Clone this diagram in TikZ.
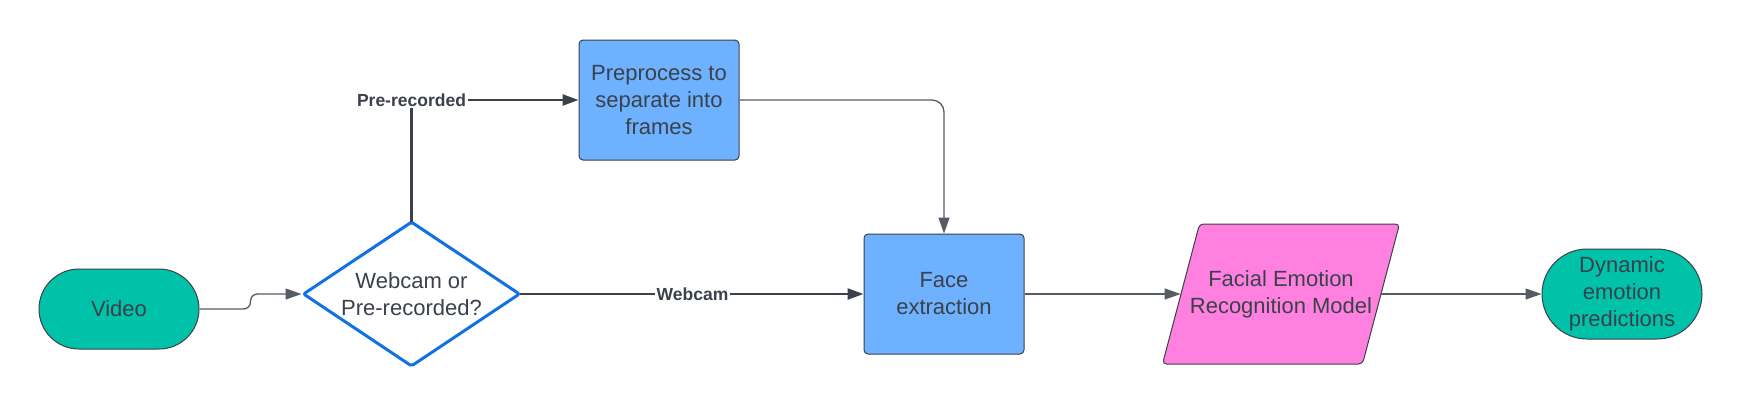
\documentclass[tikz,border=0pt]{standalone}
\usepackage{fontspec}
\setmainfont{Liberation Sans}
\usetikzlibrary{shapes.geometric, arrows.meta}
\definecolor{ink}{HTML}{3A414A}
\definecolor{wire}{HTML}{555C66}
\definecolor{tealfill}{HTML}{00C2A8}
\definecolor{boxfill}{HTML}{6DB1FF}
\definecolor{pinkfill}{HTML}{FF80DF}
\definecolor{decblue}{HTML}{1071E5}

\begin{document}
\begin{tikzpicture}[x=0.5pt, y=-0.5pt,
    txt/.style={text=ink, font=\fontsize{11}{13.5}\selectfont, align=center},
    pill/.style={txt, draw=ink, line width=0.5pt, fill=tealfill, minimum width=80pt},
    procbox/.style={txt, draw=ink, line width=0.5pt, fill=boxfill, rounded corners=2pt,
      minimum width=80pt, minimum height=60pt},
    decision/.style={txt, diamond, draw=decblue, line width=1.5pt, fill=white, rounded corners=1pt,
      shape aspect=1.5, inner sep=0pt, minimum width=108.5pt, minimum height=72.5pt},
    modelshape/.style={draw=ink, line width=0.5pt, fill=pinkfill, rounded corners=2pt},
    modelbox/.style={txt, inner sep=0pt, minimum width=100pt, minimum height=70pt},
    lbl/.style={fill=white, text=ink, inner sep=1pt, font=\fontsize{8.75}{10}\selectfont\bfseries},
    flow/.style={draw=wire, line width=0.65pt, -{Triangle[length=8pt, width=5.5pt]}},
    branch/.style={draw=ink, line width=1.2pt, shorten <=-0.8pt, -{Triangle[length=8pt, width=5.5pt]}}]

    \useasboundingbox (0,0) rectangle (1742,409);

    \coordinate (p0) at (119,309);
    \coordinate (p1) at (411.5,294);
    \coordinate (p2) at (659,100);
    \coordinate (p3) at (944,294);
    \coordinate (p4) at (1281,294);
    \coordinate (p5) at (1622,294);

    % parallelogram behind the model text
    \draw[modelshape, shift={(p4)}] (-81.5,-70) -- (118.5,-70) -- (81.5,70) -- (-118.5,70) -- cycle;

    \node[pill, minimum height=40pt, rounded corners=20pt] (video) at (p0) {Video};
    \node[decision] (source) at (p1) {Webcam or\\Pre-recorded?};
    \node[procbox] (frames) at (p2) {Preprocess to\\separate into\\frames};
    \node[procbox] (face) at (p3) {Face\\extraction};
    \node[modelbox] (fer) at (p4) {Facial Emotion\\Recognition Model};
    \node[pill, minimum height=45pt, rounded corners=22.5pt] (preds) at (p5) {Dynamic\\emotion\\predictions};

    %\foreach \i in {0,...,5} \fill (p\i) circle (2pt);

    \draw[flow, rounded corners=3.5pt] (video.east) -- ++(51,0) |- (source.west);
    \draw[branch] (source.north) |- node[lbl, pos=0.5] {Pre-recorded} (frames.west);
    \draw[branch] (source.east) -- node[lbl] {Webcam} (face.west);
    \draw[flow, rounded corners=6pt] (frames.east) -| (face.north);
    \draw[flow] (face.east) -- (fer.west);
    \draw[flow] (fer.east) -- (preds.west);
  \end{tikzpicture}
\end{document}
